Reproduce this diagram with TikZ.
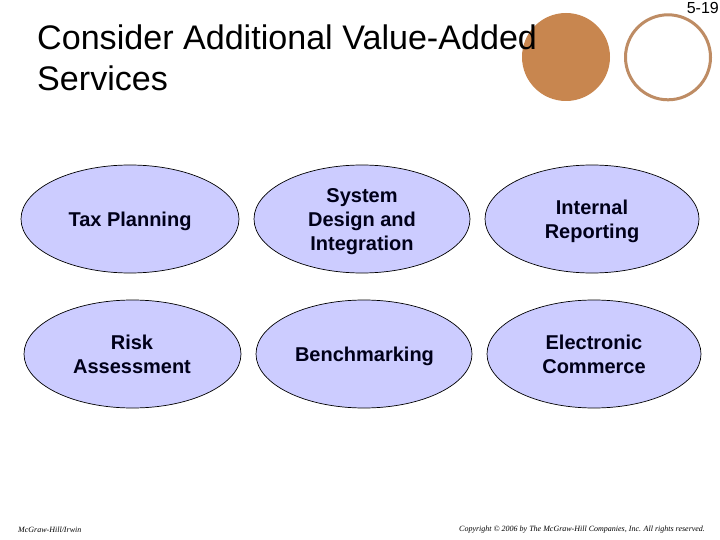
\documentclass[tikz,border=0pt]{standalone}
\usepackage{fontspec}
\setmainfont{Liberation Sans}
\newfontfamily\footfont{Liberation Serif}
\definecolor{ovalfill}{RGB}{204,204,255}
\definecolor{copper}{RGB}{200,134,79}
\definecolor{copperline}{RGB}{190,140,100}
\tikzset{
  oval/.style={draw=black,fill=ovalfill,line width=0.7pt},
  ovaltext/.style={align=center,font=\fontsize{20}{24}\selectfont\bfseries,text=black!90!blue},
  foot/.style={font=\fontsize{8}{10}\selectfont\footfont\itshape,anchor=west,inner sep=0pt}
}
\begin{document}
\begin{tikzpicture}[x=1pt,y=-1pt]
\useasboundingbox (0,0) rectangle (720,540);
\fill[white] (0,0) rectangle (720,540);
\fill[copper] (566,57) circle [radius=44];
\draw[copperline,line width=3pt] (668,57.3) circle [radius=42.5];
\node[anchor=east,inner sep=0pt,font=\fontsize{16}{18}\selectfont] (pg) at (719,8) {5-19};
\node[anchor=north west,inner sep=0pt,align=left,font=\fontsize{34.1}{41}\selectfont] (title) at (37,24.5) {Consider Additional Value-Added\\Services};
\draw[oval] (130,219) ellipse [x radius=109,y radius=54];
\draw[oval] (362,219) ellipse [x radius=108,y radius=54];
\draw[oval] (592,219) ellipse [x radius=107,y radius=54];
\draw[oval] (132.5,354) ellipse [x radius=108.5,y radius=54];
\draw[oval] (364,354) ellipse [x radius=108,y radius=54];
\draw[oval] (594,354) ellipse [x radius=107,y radius=54];
\node[ovaltext] (a) at (130,221) {Tax Planning};
\node[ovaltext] (b) at (362,221.5) {System\\Design and\\Integration};
\node[ovaltext] (c) at (592,221) {Internal\\Reporting};
\node[ovaltext] (d) at (132,354) {Risk\\Assessment};
\node[ovaltext] (e) at (364.5,356) {Benchmarking};
\node[ovaltext] (f) at (594,354) {Electronic\\Commerce};
\node[foot] (g) at (18,529.5) {McGraw-Hill/Irwin};
\node[foot] (h) at (459,529.5) {Copyright © 2006 by The McGraw-Hill Companies, Inc. All rights reserved.};
\end{tikzpicture}
\end{document}
